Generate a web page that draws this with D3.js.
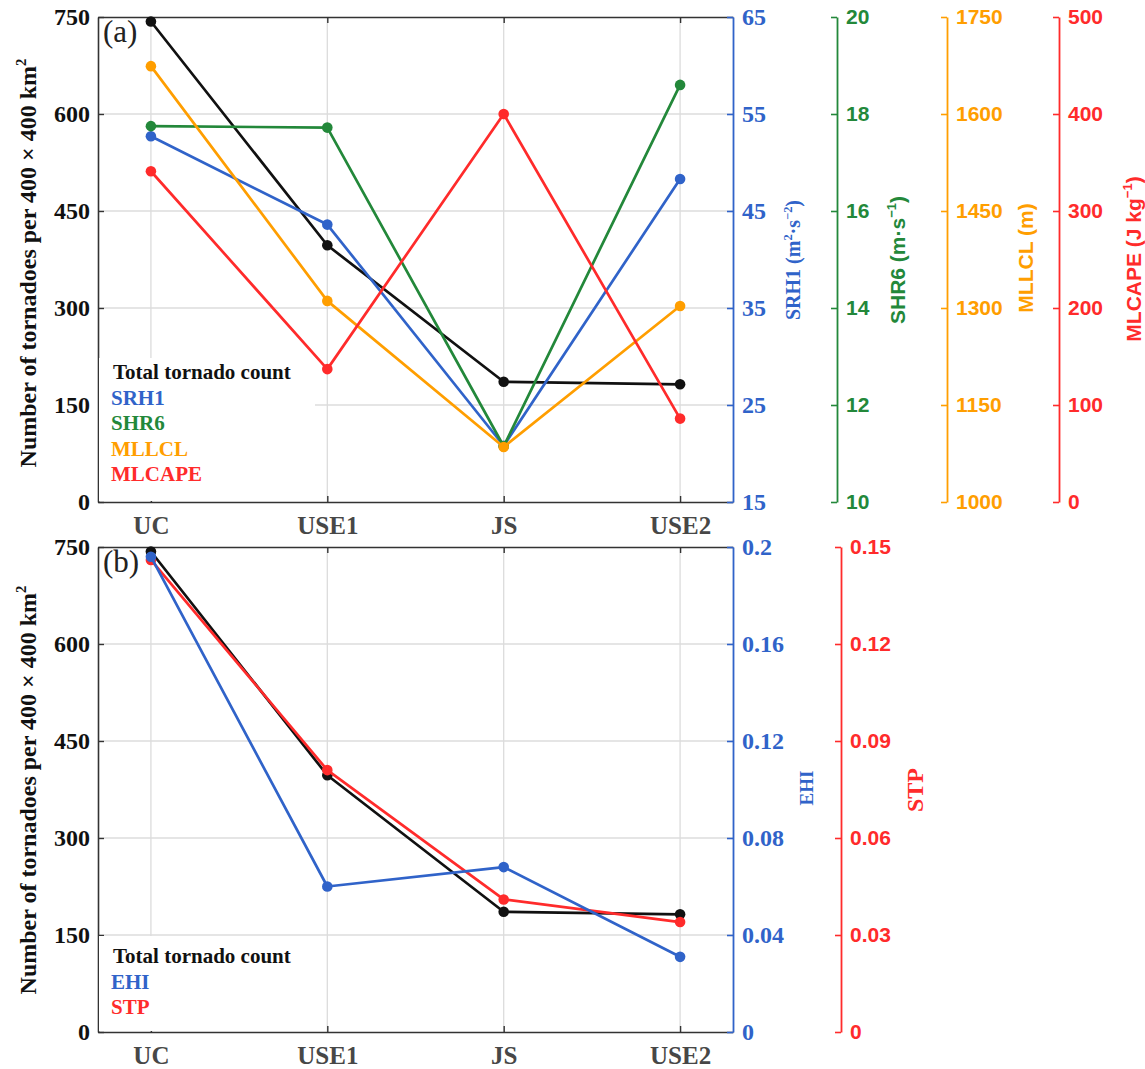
<!DOCTYPE html>
<html lang="en">
<head>
<meta charset="utf-8">
<title>Tornado count and environmental parameters</title>
<style>
  body { margin: 0; background: #fff; }
  .serif { font-family: 'Liberation Serif', 'Times New Roman', serif; font-weight: bold; }
  .sans { font-family: 'Liberation Sans', Arial, sans-serif; font-weight: bold; }
</style>
</head>
<body>
<svg></svg>
<script src="https://d3js.org/d3.v7.min.js"></script>
<script>
var svgWidth = 1145;
var svgHeight = 1069;

// regions on the x axis
var regions = ['UC', 'USE1', 'JS', 'USE2'];
var countTicks = [0, 150, 300, 450, 600, 750];

// total tornado count, the black line in both panels
var totalCount = [743, 397, 186, 182];

// panel (a)
var srh1 = [52.7, 43.6, 20.8, 48.3];
var shr6 = [17.75, 17.72, 11.15, 18.6];
var mllcl = [1674, 1311, 1085, 1303];
var mlcape = [341, 137, 400, 86];
var srh1Ticks = [15, 25, 35, 45, 55, 65];
var shr6Ticks = [10, 12, 14, 16, 18, 20];
var mllclTicks = [1000, 1150, 1300, 1450, 1600, 1750];
var mlcapeTicks = [0, 100, 200, 300, 400, 500];

// panel (b)
var ehi = [0.196, 0.060, 0.068, 0.031];
var stp = [0.146, 0.081, 0.041, 0.034];
var ehiTicks = [0, 0.04, 0.08, 0.12, 0.16, 0.2];
var stpTicks = [0, 0.03, 0.06, 0.09, 0.12, 0.15];

var black = '#111111', blue = '#3063c9', green = '#23883a', orange = '#ff9e00', red = '#ff2b2b';
var axisGray = '#333333';

var svg = d3.select('svg')
    .attr('width', svgWidth)
    .attr('height', svgHeight);

var xLeft = 98, xRight = 733;
var x = d3.scalePoint().domain(regions).range([xLeft, xRight]).padding(0.3);

// text with superscripts, pieces = [[text, isSup], ...]
function richText(sel, pieces, size) {
  var up = 0;
  pieces.forEach(function(p) {
    var t = sel.append('tspan').text(p[0]);
    if (p[1]) {
      t.attr('font-size', size * 0.62).attr('dy', -size * 0.42);
      up = size * 0.42;
    } else if (up) {
      t.attr('dy', up);
      up = 0;
    }
  });
}

function frame(top, bottom, tag, titleMid) {
  var y = d3.scaleLinear().domain([0, 750]).range([bottom, top]);

  // grid
  svg.append('g').selectAll('line').data(countTicks.slice(1, -1)).enter().append('line')
      .attr('x1', xLeft).attr('x2', xRight)
      .attr('y1', function(d) { return y(d); }).attr('y2', function(d) { return y(d); })
      .attr('stroke', '#dcdcdc').attr('stroke-width', 1.3);
  svg.append('g').selectAll('line').data(regions).enter().append('line')
      .attr('x1', function(d) { return x(d); }).attr('x2', function(d) { return x(d); })
      .attr('y1', top).attr('y2', bottom)
      .attr('stroke', '#dcdcdc').attr('stroke-width', 1.3);

  // left axis
  var la = svg.append('g').attr('transform', 'translate(' + xLeft + ',0)')
      .call(d3.axisLeft(y).tickValues(countTicks).tickSize(-6).tickSizeOuter(0).tickPadding(8));
  la.select('.domain').attr('stroke', axisGray).attr('stroke-width', 1.6);
  la.selectAll('.tick line').attr('stroke', axisGray).attr('stroke-width', 1.4);
  la.selectAll('text').attr('class', 'serif').style('font-size', '24px').attr('fill', '#111');

  // bottom axis
  var ba = svg.append('g').attr('transform', 'translate(0,' + bottom + ')')
      .call(d3.axisBottom(x).tickSize(-6).tickSizeOuter(0).tickPadding(14));
  ba.select('.domain').attr('stroke', axisGray).attr('stroke-width', 1.6);
  ba.selectAll('.tick line').attr('stroke', axisGray).attr('stroke-width', 1.4);
  ba.selectAll('text').attr('class', 'serif').style('font-size', '25px').attr('fill', '#474747');

  // top border
  var ta = svg.append('g').attr('transform', 'translate(0,' + top + ')')
      .call(d3.axisTop(x).tickSize(-6).tickSizeOuter(0).tickFormat(''));
  ta.select('.domain').attr('stroke', axisGray).attr('stroke-width', 1.6);
  ta.selectAll('.tick line').attr('stroke', axisGray).attr('stroke-width', 1.4);

  // y title
  var t = svg.append('text').attr('class', 'serif').style('font-size', '24px')
      .attr('text-anchor', 'middle').attr('fill', '#111')
      .attr('transform', 'translate(36,' + titleMid + ') rotate(-90)');
  richText(t, [['Number of tornadoes per 400 \u00d7 400 km'], ['2', true]], 24);

  // panel tag
  svg.append('text').attr('x', 103).attr('y', top + 25)
      .style('font-family', "'Liberation Serif', serif").style('font-size', '31px')
      .attr('fill', '#222').text(tag);

  return y;
}

function extraAxis(xPos, scale, ticks, color, cls, size) {
  var g = svg.append('g').attr('transform', 'translate(' + xPos + ',0)')
      .call(d3.axisRight(scale).tickValues(ticks).tickSize(-6).tickSizeOuter(0).tickPadding(9)
        .tickFormat(function(d) { return String(d); }));
  g.select('.domain').attr('stroke', color).attr('stroke-width', 1.8);
  g.selectAll('.tick line').attr('stroke', color).attr('stroke-width', 1.6);
  g.selectAll('text').attr('class', cls).style('font-size', size + 'px').attr('fill', color);
}

function axisTitle(xBase, yMid, pieces, color, cls, size) {
  var t = svg.append('text').attr('class', cls).style('font-size', size + 'px')
      .attr('text-anchor', 'middle').attr('fill', color)
      .attr('transform', 'translate(' + xBase + ',' + yMid + ') rotate(-90)');
  richText(t, pieces, size);
}

function legend(x0, y0, x1, y1, items, firstBase) {
  svg.append('rect').attr('x', x0).attr('y', y0).attr('width', x1 - x0).attr('height', y1 - y0)
      .attr('fill', '#fff');
  svg.append('g').selectAll('text').data(items).enter().append('text')
      .attr('class', 'serif').style('font-size', '21px')
      .attr('x', function(d, i) { return i === 0 ? x0 + 14 : x0 + 12; })
      .attr('y', function(d, i) { return firstBase + i * 25.5; })
      .attr('fill', function(d) { return d[1]; })
      .text(function(d) { return d[0]; });
}

function series(values, scale, color) {
  var line = d3.line()
      .x(function(d, i) { return x(regions[i]); })
      .y(function(d) { return scale(d); });
  svg.append('path').datum(values)
      .attr('d', line).attr('fill', 'none')
      .attr('stroke', color).attr('stroke-width', 2.7).attr('stroke-linejoin', 'round');
  svg.append('g').selectAll('circle').data(values).enter().append('circle')
      .attr('cx', function(d, i) { return x(regions[i]); })
      .attr('cy', function(d) { return scale(d); })
      .attr('r', 5.3).attr('fill', color);
}

// ---------- panel (a) ----------
var aTop = 17, aBottom = 502;
var yA = frame(aTop, aBottom, '(a)', 263);
var ySrh1 = d3.scaleLinear().domain([15, 65]).range([aBottom, aTop]);
var yShr6 = d3.scaleLinear().domain([10, 20]).range([aBottom, aTop]);
var yMllcl = d3.scaleLinear().domain([1000, 1750]).range([aBottom, aTop]);
var yMlcape = d3.scaleLinear().domain([0, 500]).range([aBottom, aTop]);

extraAxis(733, ySrh1, srh1Ticks, blue, 'serif', 24);
extraAxis(837, yShr6, shr6Ticks, green, 'sans', 21);
extraAxis(947, yMllcl, mllclTicks, orange, 'sans', 21);
extraAxis(1059, yMlcape, mlcapeTicks, red, 'sans', 21);

axisTitle(800, 260, [['SRH1 (m'], ['2', true], ['\u00b7s'], ['\u22122', true], [')']], blue, 'serif', 20);
axisTitle(905, 260, [['SHR6 (m\u00b7s'], ['\u22121', true], [')']], green, 'sans', 21);
axisTitle(1033, 258, [['MLLCL (m)']], orange, 'sans', 21);
axisTitle(1141, 259, [['MLCAPE (J kg'], ['\u22121', true], [')']], red, 'sans', 21);

legend(99, 358, 315, 501, [
  ['Total tornado count', '#111'], ['SRH1', blue], ['SHR6', green], ['MLLCL', orange], ['MLCAPE', red]
], 379);

series(totalCount, yA, black);
series(srh1, ySrh1, blue);
series(shr6, yShr6, green);
series(mllcl, yMllcl, orange);
series(mlcape, yMlcape, red);

// ---------- panel (b) ----------
var bTop = 547, bBottom = 1032;
var yB = frame(bTop, bBottom, '(b)', 790);
var yEhi = d3.scaleLinear().domain([0, 0.2]).range([bBottom, bTop]);
var yStp = d3.scaleLinear().domain([0, 0.15]).range([bBottom, bTop]);

extraAxis(733, yEhi, ehiTicks, blue, 'serif', 24);
extraAxis(841, yStp, stpTicks, red, 'sans', 21);

axisTitle(813, 788, [['EHI']], blue, 'serif', 19);
axisTitle(923, 790, [['STP']], red, 'serif', 24);

legend(99, 936, 313, 1031, [
  ['Total tornado count', '#111'], ['EHI', blue], ['STP', red]
], 963);

series(totalCount, yB, black);
series(stp, yStp, red);
series(ehi, yEhi, blue);
</script>
</body>
</html>
